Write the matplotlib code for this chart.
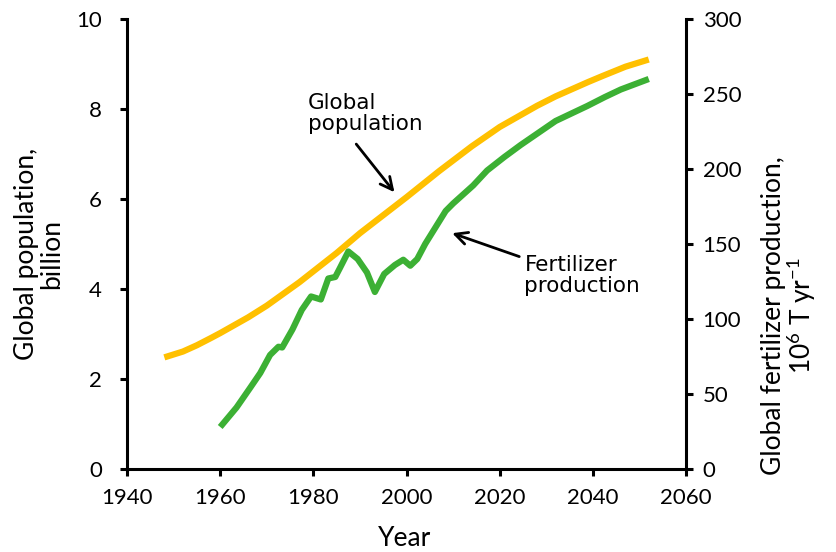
import matplotlib
matplotlib.use("Agg")
import matplotlib.pyplot as plt

# global population, billion
pop_years = [1948, 1952, 1955, 1958, 1960, 1966, 1970, 1977, 1985, 1990, 1993, 2000,
             2007, 2014, 2020, 2028, 2032, 2039, 2042, 2047, 2052]
pop_values = [2.48, 2.61, 2.75, 2.91, 3.02, 3.37, 3.63, 4.15, 4.80, 5.24, 5.48, 6.04,
              6.62, 7.17, 7.60, 8.07, 8.28, 8.60, 8.73, 8.94, 9.10]

# global fertilizer production, 10^6 T/yr (green curve)
fert_years = [1960, 1963.5, 1966.4, 1968.6, 1970.7, 1972.5, 1973.3, 1975.5, 1977.5,
              1979.5, 1981.6, 1983.2, 1984.7, 1985.7, 1987.5, 1989.5, 1991.5, 1993.2,
              1995.2, 1997.5, 1999.3, 2000.8, 2002.3, 2004, 2006, 2008.4, 2010,
              2014.3, 2017.3, 2021, 2024.5, 2032, 2038.8, 2042.6, 2046, 2052]
fert_values = [28, 41, 54, 64, 76, 81.5, 81, 93, 106,
               115, 113, 127, 128, 134, 145, 140, 131, 118,
               130, 136, 139.5, 135.5, 140, 150, 160, 172, 177,
               189, 199, 208, 216, 232, 242, 248, 253, 260]

x_ticks = [1940, 1960, 1980, 2000, 2020, 2040, 2060]
left_ticks = [0, 2, 4, 6, 8, 10]
right_ticks = [0, 50, 100, 150, 200, 250, 300]

plt.rcParams['mathtext.fontset'] = 'custom'
plt.rcParams['mathtext.rm'] = 'Lato'
plt.rcParams['mathtext.default'] = 'regular'

fig = plt.figure(figsize=(8.36, 5.52), dpi=100)
ax = fig.add_axes([0.152, 0.1504, 0.6686, 0.8152])
ax2 = ax.twinx()

ax.plot(pop_years, pop_values, color='#FFC000', lw=4.5, solid_capstyle='butt',
        solid_joinstyle='round', zorder=3)
ax2.plot(fert_years, fert_values, color='#3CB034', lw=4.5, solid_capstyle='butt',
         solid_joinstyle='round', zorder=3)

ax.set_xlim(1940, 2060)
ax.set_ylim(0, 10)
ax2.set_ylim(0, 300)
ax.set_xticks(x_ticks)
ax.set_yticks(left_ticks)
ax2.set_yticks(right_ticks)

for a in (ax, ax2):
    a.spines['top'].set_visible(False)
    for s in a.spines.values():
        s.set_linewidth(2.2)
ax.spines['right'].set_visible(False)
ax2.spines['left'].set_visible(False)
ax2.spines['bottom'].set_visible(False)

ax.tick_params(axis='x', direction='out', length=5, width=2.2, pad=9)
ax.tick_params(axis='y', direction='out', length=5, width=2.2, pad=13)
ax2.tick_params(axis='y', direction='out', length=5, width=2.2, pad=7)
for lab in ax.get_xticklabels() + ax.get_yticklabels() + ax2.get_yticklabels():
    lab.set_fontfamily('Lato')
    lab.set_fontsize(16)

ax.set_xlabel("Year", family='Lato', fontsize=19, va='center')
ax.xaxis.set_label_coords(0.497, -0.155)
ax.set_ylabel("Global population,\nbillion", family='Lato', fontsize=19,
              va='center', ha='center', linespacing=1.0)
ax.yaxis.set_label_coords(-0.158, 0.478)
ax2.set_ylabel("Global fertilizer production,\n10$^{6}$ T yr$^{-1}$", family='Lato',
               fontsize=19, va='center', ha='center', rotation=90, linespacing=1.0)
ax2.yaxis.set_label_coords(1.185, 0.34)

# annotations
arrow = dict(arrowstyle='->', color='black', lw=2, mutation_scale=22,
             shrinkA=0, shrinkB=0)
ax.text(1978.8, 7.9, "Global\npopulation", family='DejaVu Sans', fontsize=15.5,
        ha='left', va='center', linespacing=1.05)
ax.annotate('', xy=(1997.4, 6.15), xytext=(1989.2, 7.22), arrowprops=arrow)
ax.text(2025.3, 4.3, "Fertilizer\nproduction", family='DejaVu Sans', fontsize=15.5,
        ha='left', va='center', linespacing=1.05)
ax.annotate('', xy=(2009.8, 5.24), xytext=(2024.2, 4.72), arrowprops=arrow)

fig.savefig("out.png", dpi=100)
